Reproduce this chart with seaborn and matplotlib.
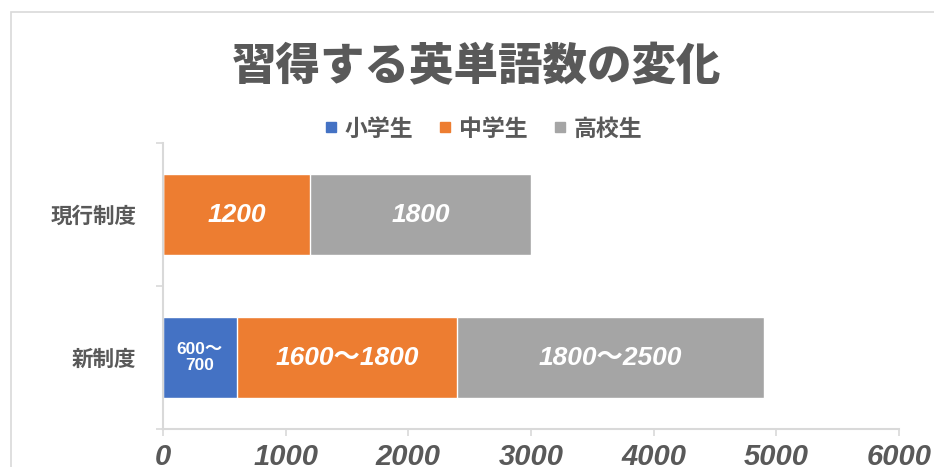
import pandas as pd
import seaborn as sns
import matplotlib.pyplot as plt
from matplotlib.lines import Line2D
from matplotlib.patches import Rectangle

# データ
categories = ["現行制度", "新制度"]
series_names = ["小学生", "中学生", "高校生"]
elementary = [0, 600]
junior = [1200, 1800]
high = [1800, 2500]
elementary_labels = ["", "600～\n700"]
junior_labels = ["1200", "1600～1800"]
high_labels = ["1800", "1800～2500"]
x_ticks = [0, 1000, 2000, 3000, 4000, 5000, 6000]

colors = ["#4472C4", "#ED7D31", "#A5A5A5"]
text_color = "#595959"
grid_color = "#D9D9D9"

sns.set_theme(style="white")
plt.rcParams["font.family"] = ["Noto Sans CJK JP", "DejaVu Sans"]
num_font = ["Liberation Sans", "Noto Sans CJK JP"]

df = pd.DataFrame({"制度": categories, "小学生": elementary, "中学生": junior, "高校生": high})
df["c1"] = df["小学生"]
df["c2"] = df["c1"] + df["中学生"]
df["c3"] = df["c2"] + df["高校生"]

fig = plt.figure(figsize=(9.34, 4.67), dpi=100)
ax = fig.add_axes([163 / 934, 1 - 429 / 467, (899 - 163) / 934, (429 - 143) / 467])

# 積み上げ（累積値を大きい順に重ねる）
for col, color in zip(["c3", "c2", "c1"], colors[::-1]):
    sns.barplot(data=df, x=col, y="制度", order=categories, orient="h", color=color,
                width=0.56, edgecolor="white", linewidth=1, saturation=1, ax=ax)

# ラベル
lefts = [0] * len(categories)
for vals, labels in zip([elementary, junior, high], [elementary_labels, junior_labels, high_labels]):
    for i, (v, lab) in enumerate(zip(vals, labels)):
        if lab:
            small = "\n" in lab
            ax.text(lefts[i] + v / 2, i, lab, ha="center", va="center", color="white",
                    fontsize=12.5 if small else 19, fontweight="bold",
                    fontstyle="normal" if small else "italic", family=num_font,
                    linespacing=1.15)
        lefts[i] += v

ax.set_xlim(0, 6000)
ax.set_ylim(1.5, -0.5)
ax.set_xticks(x_ticks)
ax.set_xticklabels([str(t) for t in x_ticks], fontsize=21, fontweight="bold",
                   fontstyle="italic", family=num_font, color=text_color)
ax.set_yticks([0, 1])
ax.set_yticklabels(categories, fontsize=15.5, fontweight="bold", color=text_color)
ax.set_yticks([-0.5, 0.5, 1.5], minor=True)
ax.tick_params(axis="y", which="major", length=0, pad=19)
ax.tick_params(axis="y", which="minor", length=5, color=grid_color, width=1.2, direction="out", left=True)
ax.tick_params(axis="x", length=5, color=grid_color, width=1.2, direction="out", bottom=True, pad=5)
ax.set_xlabel("")
ax.set_ylabel("")

for side in ["top", "right"]:
    ax.spines[side].set_visible(False)
for side in ["left", "bottom"]:
    ax.spines[side].set_color(grid_color)
    ax.spines[side].set_linewidth(1.5)

# タイトル
fig.text(477 / 934, 1 - 67 / 467, "習得する英単語数の変化", ha="center", va="center",
         fontsize=32, fontweight="heavy", color=text_color)

# 凡例
handles = [Line2D([], [], marker="s", linestyle="", markersize=7, color=c) for c in colors]
fig.legend(handles, series_names, loc="center", bbox_to_anchor=(483 / 934, 1 - 129 / 467),
           ncol=3, frameon=False, handlelength=0.6, handletextpad=0.3, columnspacing=1.1,
           prop={"size": 16.5, "weight": "bold"}, labelcolor=text_color)

# 外枠
fig.add_artist(Rectangle((11 / 934, -0.2), 1.2, 1.2 - 12 / 467, transform=fig.transFigure,
                         fill=False, edgecolor=grid_color, linewidth=1.2))

fig.savefig("out.png", dpi=100)
